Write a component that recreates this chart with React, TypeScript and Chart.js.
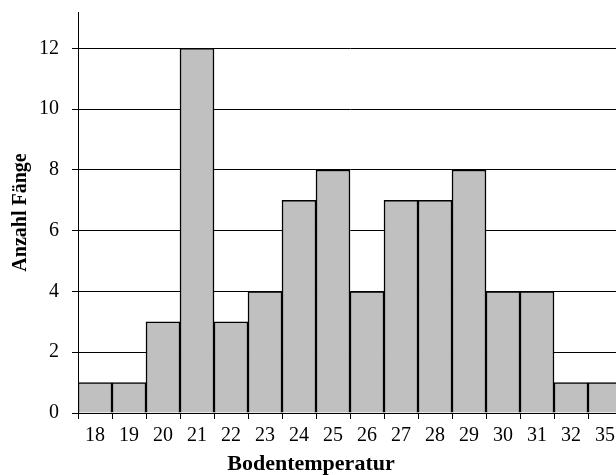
import React, { useEffect, useRef } from "react";
import { Chart, registerables } from "chart.js";

Chart.register(...registerables);

const categories = ["18", "19", "20", "21", "22", "23", "24", "25", "26", "27", "28", "29", "30", "31", "32", "35"];
const counts = [1, 1, 3, 12, 3, 4, 7, 8, 4, 7, 7, 8, 4, 4, 1, 1];
const yTicks = [0, 2, 4, 6, 8, 10, 12];
const xTitle = "Bodentemperatur";
const yTitle = "Anzahl Fänge";

const FONT = "'Liberation Serif', 'Times New Roman', serif";

const xTitlePlugin = {
  id: "xTitlePlugin",
  afterDraw(chart: any) {
    const ctx = chart.ctx;
    ctx.save();
    ctx.font = `bold 22px ${FONT}`;
    ctx.fillStyle = "#000000";
    ctx.textAlign = "center";
    ctx.textBaseline = "middle";
    ctx.fillText(xTitle, chart.width / 2, chart.height - 11);
    ctx.restore();
  },
};

export default function App() {
  const ref = useRef<HTMLCanvasElement | null>(null);

  useEffect(() => {
    if (!ref.current) return;
    const chart = new Chart(ref.current, {
      type: "bar",
      data: {
        labels: categories,
        datasets: [
          {
            data: counts,
            backgroundColor: "#c0c0c0",
            borderColor: "#000000",
            borderWidth: 1.5,
            barPercentage: 1,
            categoryPercentage: 1,
          },
        ],
      },
      plugins: [xTitlePlugin],
      options: {
        responsive: false,
        animation: false,
        layout: { padding: { top: 12, left: 0, right: 0, bottom: 0 } },
        plugins: { legend: { display: false }, tooltip: { enabled: false } },
        scales: {
          x: {
            offset: true,
            grid: {
              display: true,
              offset: true,
              drawOnChartArea: false,
              drawTicks: true,
              tickLength: 6,
              color: "#000000",
              lineWidth: 1,
            },
            border: { display: true, color: "#000000", width: 1 },
            ticks: {
              color: "#000000",
              font: { family: FONT, size: 20 },
              padding: 5,
              maxRotation: 0,
              autoSkip: false,
            },
            afterFit: (scale: any) => {
              scale.height = 62;
              scale.paddingLeft = 0;
              scale.paddingRight = 0;
            },
          },
          y: {
            min: 0,
            max: 13.2,
            afterBuildTicks: (scale: any) => {
              scale.ticks = yTicks.map((v) => ({ value: v }));
            },
            grid: {
              display: true,
              drawTicks: true,
              tickLength: 6,
              color: "#000000",
              lineWidth: 1,
            },
            border: { display: true, color: "#000000", width: 1 },
            ticks: {
              color: "#000000",
              font: { family: FONT, size: 20 },
              padding: 13,
            },
            title: {
              display: true,
              text: yTitle,
              color: "#000000",
              font: { family: FONT, size: 20, weight: "bold" },
              padding: { top: 9, bottom: 0 },
            },
            afterFit: (scale: any) => {
              scale.width = 78;
              scale.paddingTop = 0;
              scale.paddingBottom = 0;
            },
          },
        },
      },
    });
    return () => chart.destroy();
  }, []);

  return (
    <div
      style={{
        position: "fixed",
        left: 0,
        top: 0,
        width: 616,
        height: 475,
        overflow: "hidden",
        background: "#ffffff",
      }}
    >
      <canvas ref={ref} width={622} height={475} style={{ display: "block" }} />
    </div>
  );
}
